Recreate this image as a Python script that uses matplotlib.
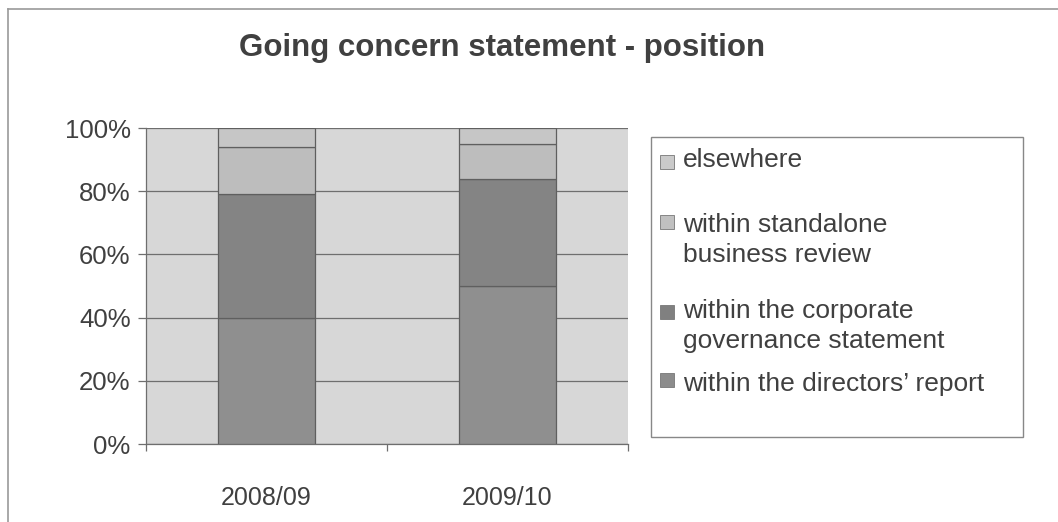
import matplotlib
matplotlib.use("Agg")
import matplotlib.pyplot as plt
from matplotlib.patches import Rectangle
from matplotlib.lines import Line2D
import numpy as np

plt.rcParams['font.family'] = ['Liberation Sans', 'DejaVu Sans']

# ---- data ----
categories = ["2008/09", "2009/10"]
series_names = ["within the directors\u2019 report",
                "within the corporate\ngovernance statement",
                "within standalone\nbusiness review",
                "elsewhere"]
directors = [40, 50]
corporate = [39, 34]
standalone = [15, 11]
elsewhere = [6, 5]
yticks = [0, 20, 40, 60, 80, 100]
title = "Going concern statement - position"

bar_colors = ["#8f8f8f", "#848484", "#bdbdbd", "#c6c6c6"]
legend_colors = ["#8c8c8c", "#808080", "#c0c0c0", "#cacaca"]
text_color = "#404040"

W, H = 1058, 522
fig = plt.figure(figsize=(W / 100, H / 100), dpi=100)
fig.patch.set_facecolor("white")

def fx(px):
    return px / W

def fy(py):
    return 1 - py / H

ax = fig.add_axes([fx(146), fy(444), fx(628) - fx(146), fy(128) - fy(444)])
ax.set_facecolor("#d7d7d7")

x = np.arange(len(categories))
series = [directors, corporate, standalone, elsewhere]
bottom = np.zeros(len(categories))
for vals, col in zip(series, bar_colors):
    ax.bar(x, vals, width=0.405, bottom=bottom, color=col,
           edgecolor="#5f5f5f", linewidth=0.9, zorder=3)
    bottom += np.array(vals)

ax.set_xlim(-0.5, len(categories) - 0.5)
ax.set_ylim(0, 100)
ax.set_yticks(yticks)
ax.set_yticklabels([f"{v}%" for v in yticks])
ax.yaxis.grid(True, color="#6e6e6e", linewidth=0.9, zorder=1)
ax.set_axisbelow(True)

ax.set_xticks(x)
ax.set_xticklabels(categories)
ax.set_xticks(np.arange(-0.5, len(categories) + 0.5, 1), minor=True)
ax.tick_params(axis="x", which="major", length=0, pad=30,
               labelsize=18, labelcolor=text_color)
ax.tick_params(axis="x", which="minor", length=5, width=0.9,
               color="#6e6e6e", direction="out")
ax.tick_params(axis="y", length=6, width=0.9, color="#6e6e6e",
               direction="out", labelsize=18.5, labelcolor=text_color, pad=5)

for s in ["top", "right"]:
    ax.spines[s].set_visible(False)
for s in ["left", "bottom"]:
    ax.spines[s].set_color("#6e6e6e")
    ax.spines[s].set_linewidth(0.9)

# title
fig.text(fx(502), fy(48), title, ha="center", va="center",
         fontsize=22.5, fontweight="bold", color=text_color)

# legend (manual, to match reference spacing)
fig.add_artist(Rectangle((fx(651), fy(437)), fx(1023) - fx(651),
                         fy(137) - fy(437), transform=fig.transFigure,
                         facecolor="white", edgecolor="#888888", linewidth=1.0))
entries = list(zip(series_names, legend_colors))[::-1]
square_y = [162, 222, 312, 380]
text_y = [160, 240, 326, 384]
for (name, col), sy, ty in zip(entries, square_y, text_y):
    fig.add_artist(Rectangle((fx(660), fy(sy + 7)), fx(14), 14 / H,
                             transform=fig.transFigure, facecolor=col,
                             edgecolor="#777777", linewidth=0.6))
    fig.text(fx(683), fy(ty), name, ha="left", va="center",
             fontsize=19, color=text_color, linespacing=1.33)

# outer chart frame (top and left edges visible)
fig.add_artist(Line2D([fx(8), 1], [fy(9), fy(9)], transform=fig.transFigure,
                      color="#9a9a9a", linewidth=1.2))
fig.add_artist(Line2D([fx(8), fx(8)], [fy(9), 0], transform=fig.transFigure,
                      color="#9a9a9a", linewidth=1.2))

fig.savefig("out.png", dpi=100, facecolor="white")
